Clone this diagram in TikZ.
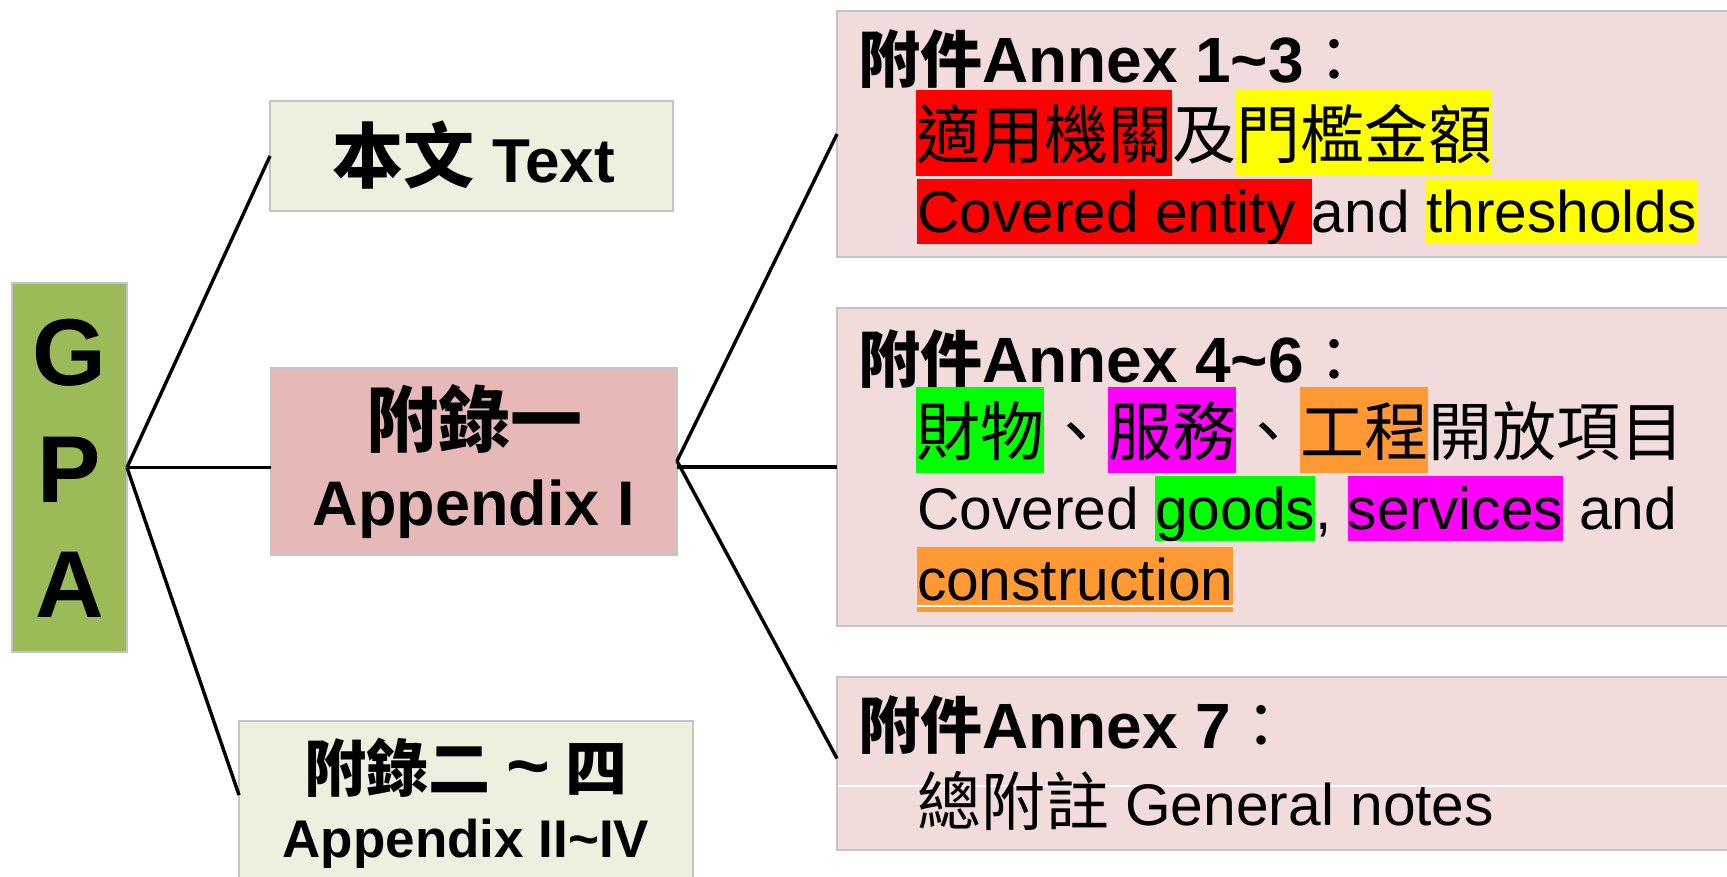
\documentclass[tikz,border=0pt]{standalone}
\usepackage{fontspec}
\setmainfont{Liberation Sans}
\newfontfamily\cjk{Noto Sans CJK TC}
\definecolor{gpagreen}{HTML}{9BBB59}
\definecolor{lightgreen}{HTML}{EBF1DE}
\definecolor{rosebox}{HTML}{E6B9B8}
\definecolor{pinkbox}{HTML}{F2DCDB}
\definecolor{bordergray}{HTML}{C4C4C4}
\definecolor{hlred}{HTML}{FF0000}
\definecolor{hlyellow}{HTML}{FFFF00}
\definecolor{hlgreen}{HTML}{00FF00}
\definecolor{hlmagenta}{HTML}{FF00FF}
\definecolor{hlorange}{HTML}{FF9933}
\newcommand\fsz[1]{\fontsize{#1}{#1}\selectfont}
\newcommand\hlL[2]{{\setlength{\fboxsep}{0pt}\colorbox{#1}{\rule[-0.212em]{0pt}{1.117em}#2}}}
\newcommand\hlC[2]{{\setlength{\fboxsep}{0pt}\colorbox{#1}{\rule[-18pt]{0pt}{86pt}#2}}}
\newcommand\ttlcolon{{\cjk\mdseries\fsz{62}：}}
\tikzset{
  boxb/.style={rectangle, draw=bordergray, line width=2pt, inner sep=0pt, outer sep=0pt},
  lbl/.style={inner sep=0pt, outer sep=0pt, anchor=base},
  lblw/.style={inner sep=0pt, outer sep=0pt, anchor=base west},
  conn/.style={line width=3.4pt, black},
  ttl/.style={lblw, font=\fsz{64}\bfseries}
}
\begin{document}
\begin{tikzpicture}[x=1pt,y=-1pt]
\clip (0,0) rectangle (1727,876);
% boxes
\node[boxb, fill=gpagreen, minimum width=115pt, minimum height=369pt] (gpa) at (69.5,467.5) {};
\node[boxb, fill=lightgreen, minimum width=403pt, minimum height=110pt] (txt) at (471.5,156) {};
\node[boxb, fill=rosebox, minimum width=406pt, minimum height=187pt] (app1) at (474,461) {};
\node[boxb, fill=lightgreen, minimum width=454pt, minimum height=180pt] (app24) at (466,811) {};
\node[boxb, fill=pinkbox, minimum width=910pt, minimum height=246pt] (a13) at (1292,134) {};
\node[boxb, fill=pinkbox, minimum width=910pt, minimum height=318pt] (a46) at (1292,467) {};
\node[boxb, fill=pinkbox, minimum width=910pt, minimum height=173pt] (a7) at (1292,763.5) {};
\draw[white, line width=1.2pt] ([xshift=1pt,yshift=-109pt]a7.north west) -- ([yshift=-109pt]a7.north east);
% connectors
\draw[conn] (gpa.east) -- (txt.west);
\draw[conn] (gpa.east) -- (gpa.east -| app1.west);
\draw[conn] (gpa.east) -- ([yshift=-74pt]app24.north west);
\draw[conn] (app1.east) -- (a13.west);
\draw[conn] (app1.east |- a46.west) -- (a46.west);
\draw[conn] (app1.east) -- ([yshift=5pt]a7.west);
% GPA
\node[lbl, font=\fsz{95}\bfseries] (gpaG) at (69.5,385) {G};
\node[lbl, font=\fsz{95}\bfseries] (gpaP) at (69.5,502) {P};
\node[lbl, font=\fsz{95}\bfseries] (gpaA) at (69.5,617) {A};
% left labels
\node[lbl] (txtl) at (474,182) {\fsz{62}\bfseries{\cjk\fsz{71}本文} Text};
\node[lbl] (app1a) at (474,446) {\cjk\bfseries\fsz{72}附錄一};
\node[lbl] (app1b) at (474,525) {\bfseries\fsz{63}Appendix I};
\node[lbl] (app24a) at (466,791) {\fsz{55}\bfseries{\cjk\fsz{62}附錄二} {\fsz{75}\textasciitilde} {\cjk\fsz{62}四}};
\node[lbl] (app24b) at (466,857) {\bfseries\fsz{53}Appendix II\textasciitilde IV};
% Annex 1-3
\node[ttl] (a13t) at (858,82) {{\cjk\fsz{62}附件}Annex 1\textasciitilde 3\ttlcolon};
\node[lblw] (a13b) at (916,158) {\cjk\fsz{64}\hlC{hlred}{適用機關}及\hlC{hlyellow}{門檻金額}};
\node[lblw] (a13c) at (917,232) {\fsz{58.7}\hlL{hlred}{Covered entity\ }and \hlL{hlyellow}{thresholds}};
% Annex 4-6
\node[ttl] (a46t) at (858,382) {{\cjk\fsz{62}附件}Annex 4\textasciitilde 6\ttlcolon};
\node[lblw] (a46b) at (916,455) {\cjk\fsz{64}\hlC{hlgreen}{財物}、\hlC{hlmagenta}{服務}、\hlC{hlorange}{工程}開放項目};
\node[lblw] (a46c) at (917,529) {\fsz{58.7}Covered \hlL{hlgreen}{goods}, \hlL{hlmagenta}{services} and};
\node[lblw] (a46d) at (917,600) {\fsz{58.7}\hlL{hlorange}{construction}};
\draw[white, line width=1.2pt] ([yshift=-6pt]a46d.base west) -- ([yshift=-6pt]a46d.base east);
% Annex 7
\node[ttl] (a7t) at (858,748) {{\cjk\fsz{62}附件}Annex 7\ttlcolon};
\node[lblw] (a7b) at (917,825) {\fsz{58.7}{\cjk\fsz{64}總附註} General notes};
\end{tikzpicture}
\end{document}
